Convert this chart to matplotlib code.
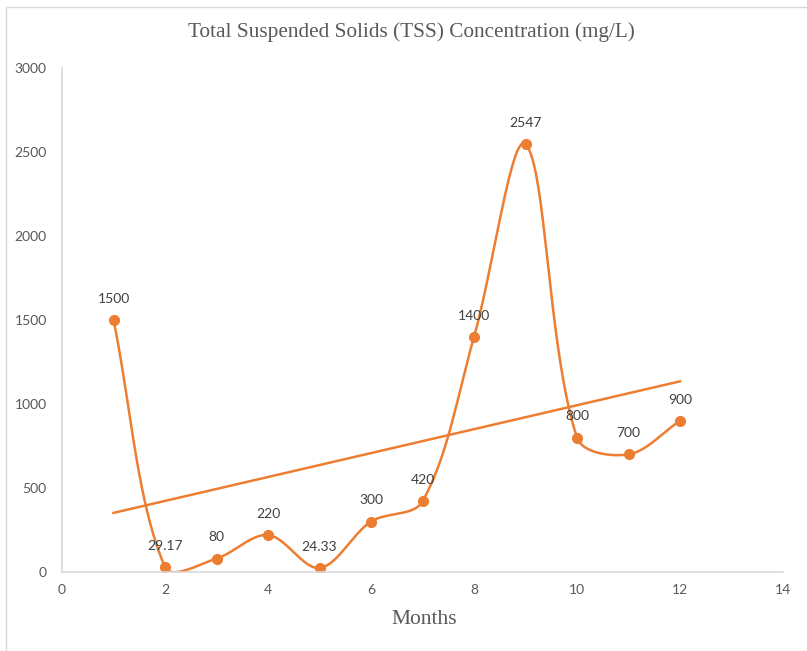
import numpy as np
import matplotlib.pyplot as plt
from matplotlib.patches import Rectangle

# Monthly TSS readings
months = [1, 2, 3, 4, 5, 6, 7, 8, 9, 10, 11, 12]
tss = [1500, 29.17, 80, 220, 24.33, 300, 420, 1400, 2547, 800, 700, 900]
point_labels = ["1500", "29.17", "80", "220", "24.33", "300", "420",
                "1400", "2547", "800", "700", "900"]

orange = "#ED7D31"
grey_text = "#595959"


def smooth_curve(xs, ys, sx=1.0, sy=1.0, steps=40):
    # Bezier segments with chord-weighted tangents (spreadsheet-style smoothing);
    # chord lengths measured in display units given by the scale factors sx, sy
    p = np.column_stack([xs, ys]).astype(float)
    p = np.vstack([p[0], p, p[-1]])
    scale = np.array([sx, sy])

    def dist(a, b):
        return np.hypot(*((a - b) * scale))

    out = []
    t = np.linspace(0, 1, steps)[:, None]
    for i in range(1, len(p) - 2):
        p0, p1, p2, p3 = p[i - 1], p[i], p[i + 1], p[i + 2]
        d01, d12, d23 = dist(p0, p1), dist(p1, p2), dist(p2, p3)
        c1 = p1 + (p2 - p0) * d12 / (d01 + d12) / 3
        c2 = p2 - (p3 - p1) * d12 / (d12 + d23) / 3
        seg = ((1 - t) ** 3) * p1 + 3 * ((1 - t) ** 2) * t * c1 \
            + 3 * (1 - t) * t ** 2 * c2 + t ** 3 * p2
        out.append(seg if i == 1 else seg[1:])
    out = np.vstack(out)
    return out[:, 0], out[:, 1]


fig = plt.figure(figsize=(8.07, 6.51), dpi=100)
ax = fig.add_axes([62 / 807, 79 / 651, 721 / 807, 504 / 651])
ax.set_xlim(0, 14)
ax.set_ylim(0, 3000)

# outer chart border
fig.patches.append(Rectangle((6.5 / 807, -0.1), 1.2, 1.1 - 6.5 / 651,
                             transform=fig.transFigure, fill=False,
                             edgecolor="#d9d9d9", linewidth=1))

px_per_x = 721 / 14
px_per_y = 504 / 3000
cx, cy = smooth_curve(months, tss, px_per_x, px_per_y)
ax.plot(cx, cy, color=orange, linewidth=1.8, solid_capstyle="round")
ax.plot(months, tss, "o", color=orange, markersize=7)

# linear trendline
slope, intercept = np.polyfit(months, tss, 1)
tx = np.array([months[0], months[-1]])
ax.plot(tx, slope * tx + intercept, color=orange, linewidth=1.8)

for x, y, lab in zip(months, tss, point_labels):
    ax.annotate(lab, (x, y), xytext=(0, 11), textcoords="offset points",
                ha="center", va="bottom", fontsize=10, color="#404040",
                family="Lato")

ax.set_xticks(range(0, 15, 2))
ax.set_yticks(range(0, 3001, 500))
ax.tick_params(length=0, labelsize=10, labelcolor=grey_text)
ax.tick_params(axis="y", pad=11)
ax.tick_params(axis="x", pad=9)
for lab in ax.get_xticklabels() + ax.get_yticklabels():
    lab.set_family("Lato")

for side in ["top", "right"]:
    ax.spines[side].set_visible(False)
for side in ["left", "bottom"]:
    ax.spines[side].set_color("#d9d9d9")
    ax.spines[side].set_linewidth(1.2)

fig.text(411 / 807, 1 - 32 / 651, "Total Suspended Solids (TSS) Concentration (mg/L)",
         ha="center", va="center", fontsize=15.3, color=grey_text,
         family="Liberation Serif")
fig.text(424 / 807, 1 - 620 / 651, "Months", ha="center", va="center",
         fontsize=15.5, color=grey_text, family="Liberation Serif")

fig.savefig("out.png", dpi=100)
